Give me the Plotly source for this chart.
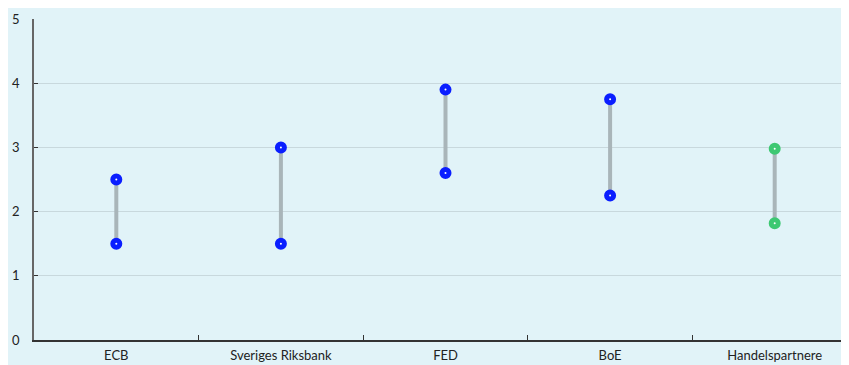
import plotly.graph_objects as go

# Data
banks = ['ECB', 'Sveriges Riksbank', 'FED', 'BoE', 'Handelspartnere']
low = [1.5, 1.5, 2.6, 2.25, 1.82]
high = [2.5, 3.0, 3.9, 3.75, 2.98]
colors = ['#0a1eff', '#0a1eff', '#0a1eff', '#0a1eff', '#3dc872']

fig = go.Figure()

# grey connectors
for b, lo, hi in zip(banks, low, high):
    fig.add_trace(go.Scatter(x=[b, b], y=[lo, hi], mode='lines',
                             line=dict(color='#a9b5b9', width=4),
                             hoverinfo='skip', showlegend=False))

# end points
for vals in (low, high):
    fig.add_trace(go.Scatter(x=banks, y=vals, mode='markers',
                             marker=dict(size=7, color='white',
                                         line=dict(color=colors, width=5)),
                             showlegend=False))

# page body adds 8px margin, so margins are offset to match
fig.update_layout(
    width=849, height=365,
    margin=dict(l=26, r=0, t=11, b=33),
    paper_bgcolor='#e1f3f8',
    plot_bgcolor='#e1f3f8',
    font=dict(family='Lato', size=13, color='#222222'),
)

fig.update_xaxes(type='category', range=[-0.5, 4.5],
                 showgrid=False, showline=True, linecolor='#333333', linewidth=1.5,
                 ticks='inside', tickson='boundaries', ticklen=5, tickcolor='#333333',
                 ticklabelstandoff=3, tickfont=dict(size=13))
fig.update_yaxes(range=[0, 5], dtick=1,
                 showgrid=True, gridcolor='#c8d8dd', gridwidth=1,
                 showline=True, linecolor='#666666', linewidth=1.5,
                 ticks='inside', ticklen=4, tickcolor='#333333',
                 ticklabelstandoff=10,
                 zeroline=False, tickfont=dict(size=13))

fig.write_html("out.html")
